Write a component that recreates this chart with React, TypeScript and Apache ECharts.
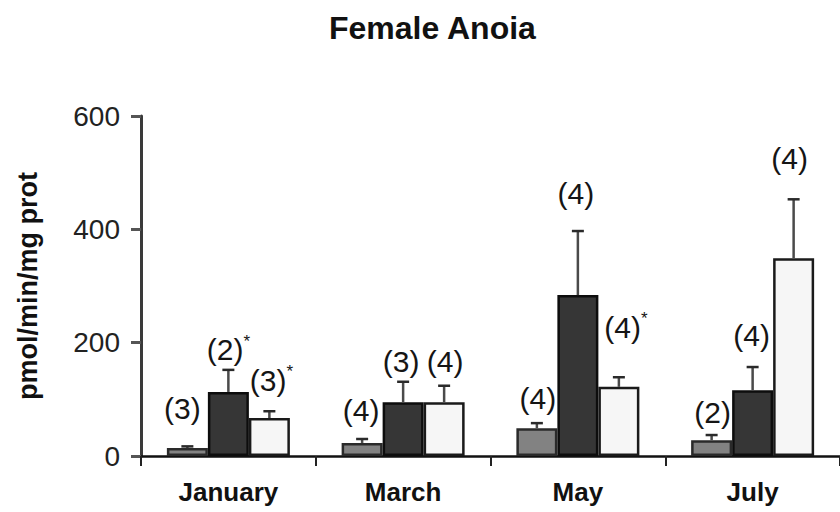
import React, { useEffect, useRef } from "react";
import * as echarts from "echarts";

const categories = ["January", "March", "May", "July"];
const seriesA = [14, 23, 49, 28];
const seriesB = [113, 95, 284, 116];
const seriesC = [67, 95, 122, 349];
const errA = [3, 7, 9, 9];
const errB = [39, 36, 113, 41];
const errC = [12, 29, 17, 104];
const labelsA = ["(3)", "(4)", "(4)", "(2)"];
const labelsB = ["(2)*", "(3)", "(4)", "(4)"];
const labelsC = ["(3)*", "(4)", "(4)*", "(4)"];
const yTicks = [0, 200, 400, 600];

// label placement relative to the error-bar top (pixels): [dx, dy] per series per category
const labelShift = [
  [[-5, -38], [-1, -29], [1, -25], [1, -23]],
  [[0, -20], [-2, -20], [-2, -38], [-1, -32]],
  [[2, -31], [1, -24], [7, -50], [-4, -41]],
];

const FONT = "'Liberation Sans', Arial, Helvetica, sans-serif";
const BAR_W = 41;

export default function App() {
  const ref = useRef<HTMLDivElement>(null);
  useEffect(() => {
    if (!ref.current) return;
    const chart = echarts.init(ref.current, undefined, { renderer: "svg" });
    const values = [seriesA, seriesB, seriesC];
    const errs = [errA, errB, errC];
    const labels = [labelsA, labelsB, labelsC];
    const fills = ["#828282", "#363636", "#f6f6f6"];
    const borders = ["#2a2a2a", "#0d0d0d", "#1a1a1a"];

    const errData: any[] = [];
    for (let s = 0; s < 3; s++) {
      for (let c = 0; c < categories.length; c++) {
        errData.push([c, s, values[s][c], errs[s][c]]);
      }
    }

    const option: any = {
      animation: false,
      backgroundColor: "#ffffff",
      title: {
        text: "Female Anoia",
        left: 324,
        top: 7,
        textStyle: { fontFamily: FONT, fontSize: 32, fontWeight: "bold", color: "#111" },
      },
      grid: { left: 141, right: -6, top: 116, bottom: 56, containLabel: false },
      xAxis: {
        type: "category",
        data: categories,
        axisLine: { lineStyle: { color: "#111", width: 2.5 } },
        axisTick: { show: true, length: 10, lineStyle: { color: "#222", width: 2 } },
        axisLabel: { fontFamily: FONT, fontSize: 26, fontWeight: "bold", color: "#111", margin: 23 },
      },
      yAxis: {
        type: "value",
        min: 0,
        max: 600,
        interval: 200,
        name: "pmol/min/mg prot",
        nameLocation: "middle",
        nameRotate: 90,
        nameGap: 100,
        nameTextStyle: { fontFamily: FONT, fontSize: 27, fontWeight: "bold", color: "#111" },
        axisLine: { show: true, lineStyle: { color: "#3a3a3a", width: 3 } },
        axisTick: { show: true, length: 10, lineStyle: { color: "#555", width: 3 } },
        splitLine: { show: false },
        axisLabel: {
          fontFamily: FONT,
          fontSize: 28,
          color: "#222",
          margin: 21,
          formatter: (v: number) => (yTicks.indexOf(v) >= 0 ? String(v) : ""),
        },
      },
      series: [
        ...values.map((vals, s) => ({
          type: "bar",
          name: "s" + s,
          data: vals,
          barWidth: BAR_W,
          barGap: "0%",
          itemStyle: { color: fills[s], borderColor: borders[s], borderWidth: 2.5 },
        })),
        {
          type: "custom",
          data: errData,
          z: 10,
          renderItem: (params: any, api: any) => {
            const c = api.value(0);
            const s = api.value(1);
            const v = api.value(2);
            const e = api.value(3);
            const base = api.coord([c, v]);
            const top = api.coord([c, v + e]);
            const x = base[0] + (s - 1) * BAR_W;
            const shift = labelShift[s][c];
            const txt: string = labels[s][c];
            const star = txt.endsWith("*");
            const core = star ? txt.slice(0, -1) : txt;
            const rich = star ? `{n|${core}}{s|*}` : `{n|${core}}`;
            return {
              type: "group",
              children: [
                {
                  type: "line",
                  shape: { x1: x, y1: base[1], x2: x, y2: top[1] },
                  style: { stroke: "#4a4a4a", lineWidth: 2.5 },
                },
                {
                  type: "line",
                  shape: { x1: x - 6, y1: top[1], x2: x + 6, y2: top[1] },
                  style: { stroke: "#2a2a2a", lineWidth: 2.5 },
                },
                {
                  type: "text",
                  x: x + shift[0],
                  y: top[1] + shift[1],
                  style: {
                    text: rich,
                    align: "center",
                    verticalAlign: "middle",
                    rich: {
                      n: { fontFamily: FONT, fontSize: 30, fill: "#151515", lineHeight: 34 },
                      s: { fontFamily: FONT, fontSize: 17, fill: "#151515", verticalAlign: "top", lineHeight: 17 },
                    },
                  },
                },
              ],
            };
          },
        },
      ],
    };
    chart.setOption(option);
    return () => chart.dispose();
  }, []);
  return (
    <div
      ref={ref}
      style={{ position: "fixed", left: 0, top: 0, width: 840, height: 512, background: "#fff" }}
    />
  );
}
